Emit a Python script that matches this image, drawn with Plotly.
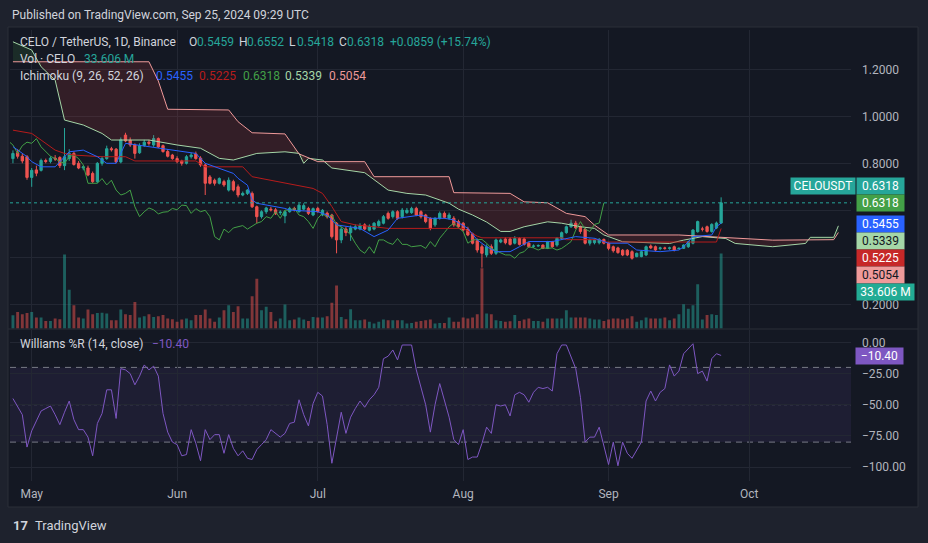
import numpy as np
import pandas as pd
import plotly.graph_objects as go

# ---------------- data ----------------
dates = pd.date_range("2024-04-27", "2024-09-25", freq="D")

opens = [.820,.845,.830,.828,.740,.772,.770,.812,.808,.822,
         .825,.790,.820,.842,.800,.780,.780,.757,.722,.800,
         .820,.862,.860,.806,.920,.898,.878,.845,.876,.890,
         .878,.905,.875,.850,.835,.820,.810,.800,.828,.840,
         .822,.793,.742,.728,.715,.722,.686,.722,.700,.665,
         .672,.672,.615,.573,.594,.605,.602,.590,.576,.594,
         .608,.594,.605,.608,.580,.608,.580,.588,.580,.545,
         .474,.520,.505,.520,.520,.538,.515,.520,.535,.545,
         .587,.573,.594,.573,.590,.590,.608,.594,.580,.566,
         .538,.566,.587,.566,.566,.552,.545,.520,.500,.470,
         .445,.410,.445,.417,.465,.478,.478,.460,.480,.478,
         .460,.447,.448,.452,.438,.467,.452,.480,.505,.530,
         .545,.530,.520,.460,.462,.462,.476,.460,.445,.440,
         .430,.430,.424,.403,.403,.410,.448,.445,.437,.440,
         .438,.445,.436,.438,.445,.460,.509,.520,.530,.510,
         .525,.5459]
highs = [.855,.860,.840,.835,.780,.790,.820,.820,.830,.835,
         .830,.950,.860,.850,.810,.790,.790,.765,.805,.830,
         .875,.870,.865,.910,.930,.910,.885,.885,.900,.900,
         .920,.910,.880,.860,.840,.830,.815,.835,.845,.850,
         .830,.800,.750,.735,.740,.730,.740,.730,.710,.680,
         .690,.680,.620,.600,.615,.615,.610,.600,.600,.615,
         .615,.630,.630,.615,.612,.615,.605,.595,.585,.550,
         .530,.530,.535,.540,.545,.545,.540,.550,.560,.580,
         .595,.600,.600,.610,.610,.615,.615,.600,.585,.570,
         .570,.595,.595,.590,.575,.560,.550,.530,.505,.480,
         .455,.455,.455,.480,.480,.485,.485,.490,.485,.485,
         .465,.455,.455,.455,.470,.470,.485,.510,.535,.560,
         .555,.535,.525,.480,.480,.482,.480,.465,.450,.445,
         .435,.435,.430,.420,.430,.450,.455,.450,.445,.445,
         .445,.450,.442,.455,.470,.520,.556,.530,.535,.545,
         .552,.6552]
lows = [.800,.820,.800,.730,.700,.745,.765,.800,.800,.810,
        .780,.771,.810,.790,.775,.770,.745,.715,.715,.790,
        .815,.850,.800,.800,.890,.870,.820,.840,.870,.875,
        .870,.865,.845,.825,.815,.800,.790,.795,.820,.815,
        .785,.665,.710,.705,.710,.700,.680,.680,.655,.660,
        .665,.610,.545,.565,.585,.595,.580,.580,.545,.590,
        .595,.590,.600,.580,.575,.590,.575,.565,.480,.417,
        .460,.490,.470,.515,.515,.515,.510,.515,.530,.540,
        .560,.565,.560,.565,.585,.585,.575,.565,.545,.515,
        .530,.560,.565,.560,.530,.525,.510,.490,.455,.420,
        .356,.400,.410,.410,.460,.455,.450,.455,.450,.450,
        .440,.440,.445,.435,.435,.440,.445,.475,.500,.525,
        .520,.500,.455,.450,.455,.455,.455,.430,.420,.415,
        .405,.405,.390,.400,.400,.405,.435,.425,.430,.432,
        .432,.425,.436,.436,.440,.455,.505,.510,.505,.505,
        .520,.5418]
closes = [.842,.830,.810,.740,.770,.758,.812,.808,.822,.818,
          .790,.828,.842,.795,.780,.785,.750,.722,.800,.820,
          .862,.858,.806,.900,.895,.878,.842,.875,.890,.885,
          .905,.870,.850,.830,.820,.807,.800,.828,.835,.820,
          .793,.715,.715,.715,.735,.708,.728,.686,.665,.672,
          .686,.615,.573,.594,.610,.602,.585,.592,.594,.608,
          .602,.622,.620,.587,.607,.594,.600,.573,.488,.474,
          .520,.505,.525,.530,.535,.520,.532,.545,.552,.573,
          .566,.594,.566,.601,.600,.608,.580,.573,.552,.523,
          .566,.587,.570,.580,.538,.530,.516,.495,.460,.431,
          .417,.445,.417,.474,.474,.462,.455,.480,.455,.455,
          .445,.448,.450,.438,.467,.445,.481,.505,.530,.545,
          .525,.510,.460,.474,.474,.476,.460,.438,.428,.420,
          .410,.410,.396,.417,.424,.445,.440,.431,.440,.438,
          .440,.431,.438,.452,.467,.516,.552,.520,.510,.540,
          .546,.6318]
volume_m = [5.95,7.4,6.4,7.0,7.4,4.9,4.9,3.4,3.4,4.5,
            4.2,33.2,17.4,10.4,4.9,4.5,8.5,6.4,7.0,7.1,
            6.7,3.7,3.7,8.5,6.4,6.0,11.9,4.9,5.5,6.4,
            5.2,5.5,6.0,4.5,4.2,3.0,4.0,4.5,3.7,6.0,
            6.0,8.5,4.5,3.0,4.9,8.2,10.4,7.4,10.0,4.5,
            4.5,14.4,22.3,8.2,9.7,7.4,3.3,4.5,10.7,3.7,
            4.0,4.9,4.0,3.4,5.2,4.9,4.9,5.5,11.5,19.3,
            5.2,4.2,8.6,3.7,3.7,4.0,3.0,2.2,3.0,4.0,
            3.7,3.7,3.7,3.7,2.2,2.5,3.0,3.4,3.7,4.0,
            2.2,2.5,2.5,4.9,3.0,3.0,4.9,4.5,4.9,6.4,
            27.0,6.7,6.4,3.7,3.4,3.0,3.3,6.0,3.4,4.0,
            4.5,3.4,3.4,3.0,4.5,4.5,4.5,4.5,8.2,4.9,
            4.9,4.9,4.9,4.5,4.0,4.0,3.4,4.0,4.5,4.5,
            4.0,4.5,5.5,3.0,3.7,4.9,4.5,4.5,4.5,4.9,
            3.7,4.5,6.4,10.9,8.9,10.4,19.8,4.0,6.0,6.4,
            6.0,33.606]
williams_r = [-45,-52,-58,-84,-71,-63,-55,-53,-51,-58,
              -66,-56,-47,-62,-70,-70,-76,-91,-65,-57,
              -38,-38,-61,-21,-22,-25,-34,-27,-18,-22,
              -19,-27,-57,-72,-80,-82,-91,-90,-70,-81,
              -95,-70,-78,-74,-74,-89,-74,-85,-91,-87,
              -93,-94,-86,-82,-78,-70,-73,-76,-73,-65,
              -64,-46,-58,-67,-49,-40,-43,-66,-97,-76,
              -56,-73,-60,-53,-47,-52,-46,-42,-36,-13,
              -11,-6,-14,-2,-2,-2,-22,-37,-50,-72,
              -50,-33,-46,-60,-78,-82,-70,-94,-92,-92,
              -81,-68,-73,-50,-51,-50,-59,-42,-40,-42,
              -48,-40,-36,-37,-36,-39,-9,-2,-2,-11,
              -21,-44,-80,-76,-76,-68,-83,-98,-80,-99,
              -80,-89,-93,-86,-80,-47,-39,-47,-40,-37,
              -18,-27,-23,-9,-5,-1,-25,-23,-31,-13,
              -9,-10.4]

# Ichimoku lines (vertices)
tenkan_dates = ["2024-04-27","2024-04-28","2024-04-30","2024-05-01","2024-05-03","2024-05-06",
                "2024-05-09","2024-05-12","2024-05-15","2024-05-17","2024-05-19","2024-05-21",
                "2024-05-26","2024-06-03","2024-06-05","2024-06-07","2024-06-13","2024-06-14",
                "2024-06-16","2024-06-17","2024-06-18","2024-06-24","2024-06-25","2024-07-01",
                "2024-07-03","2024-07-05","2024-07-10","2024-07-13","2024-07-16","2024-07-18",
                "2024-07-21","2024-07-23","2024-07-25","2024-07-28","2024-07-30","2024-08-02",
                "2024-08-04","2024-08-06","2024-08-08","2024-08-11","2024-08-13","2024-08-15",
                "2024-08-20","2024-08-23","2024-08-25","2024-08-29","2024-09-01","2024-09-05",
                "2024-09-07","2024-09-12","2024-09-16","2024-09-17","2024-09-19","2024-09-23",
                "2024-09-24","2024-09-25"]
tenkan_vals = [0.871,0.856,0.828,0.807,0.785,0.785,0.849,0.856,0.828,0.800,0.800,0.885,
               0.870,0.849,0.842,0.800,0.757,0.736,0.707,0.644,0.630,0.608,0.601,0.594,
               0.580,0.538,0.523,0.488,0.516,0.566,0.573,0.580,0.566,0.566,0.559,0.523,
               0.474,0.445,0.424,0.424,0.445,0.467,0.467,0.481,0.488,0.481,0.460,0.460,
               0.431,0.424,0.431,0.445,0.488,0.495,0.530,0.5455]

kijun_dates = ["2024-04-27","2024-05-01","2024-05-03","2024-05-06","2024-05-08","2024-05-10",
               "2024-05-16","2024-05-21","2024-05-23","2024-06-05","2024-06-07","2024-06-15",
               "2024-06-17","2024-06-24","2024-06-30","2024-07-02","2024-07-04","2024-07-06",
               "2024-07-09","2024-07-13","2024-07-16","2024-08-01","2024-08-04","2024-08-05",
               "2024-08-22","2024-08-23","2024-08-30","2024-08-31","2024-09-24","2024-09-25"]
kijun_vals = [0.941,0.927,0.899,0.856,0.842,0.835,0.828,0.828,0.810,0.810,0.785,0.785,
              0.743,0.715,0.693,0.672,0.616,0.552,0.538,0.530,0.523,0.523,0.490,0.483,
              0.483,0.475,0.475,0.465,0.465,0.5225]

span_a_dates = ["2024-04-27","2024-05-01","2024-05-03","2024-05-06","2024-05-08","2024-05-12",
                "2024-05-16","2024-05-18","2024-05-26","2024-06-01","2024-06-06","2024-06-10",
                "2024-06-13","2024-06-18","2024-06-24","2024-06-27","2024-06-28","2024-06-29",
                "2024-07-02","2024-07-04","2024-07-11","2024-07-13","2024-07-16","2024-07-20",
                "2024-07-24","2024-07-29","2024-07-31","2024-08-03","2024-08-06","2024-08-09",
                "2024-08-11","2024-08-14","2024-08-19","2024-08-22","2024-08-26","2024-08-29",
                "2024-08-31","2024-09-01","2024-09-04","2024-09-14","2024-09-17","2024-09-21",
                "2024-09-26","2024-09-28","2024-10-06","2024-10-13","2024-10-14","2024-10-19",
                "2024-10-20"]
span_a_vals = [1.317,1.282,1.211,1.154,0.984,0.963,0.927,0.899,0.899,0.878,0.864,0.821,
               0.814,0.842,0.849,0.842,0.800,0.821,0.814,0.780,0.760,0.729,0.686,0.672,
               0.665,0.630,0.605,0.580,0.550,0.510,0.510,0.530,0.551,0.545,0.530,0.523,
               0.495,0.488,0.466,0.459,0.473,0.488,0.480,0.459,0.445,0.459,0.485,0.485,
               0.5339]

span_b_dates = ["2024-04-27","2024-05-26","2024-05-28","2024-05-30","2024-06-12","2024-06-14",
                "2024-06-17","2024-06-24","2024-06-27","2024-07-01","2024-07-11","2024-07-13",
                "2024-07-29","2024-07-30","2024-08-11","2024-08-14","2024-08-19","2024-08-23",
                "2024-08-27","2024-08-29","2024-09-01","2024-09-16","2024-10-06","2024-10-19",
                "2024-10-20"]
span_b_vals = [1.232,1.232,1.150,1.030,1.027,0.977,0.930,0.925,0.840,0.807,0.807,0.743,
               0.743,0.675,0.672,0.636,0.632,0.587,0.573,0.537,0.495,0.495,0.473,0.475,
               0.5054]

lag_shift_days = 25
month_ticks = ["2024-05-01","2024-06-01","2024-07-01","2024-08-01","2024-09-01","2024-10-01"]
month_labels = ["May","Jun","Jul","Aug","Sep","Oct"]
price_ticks = [0.2, 0.4, 0.6, 0.8, 1.0, 1.2]
price_tick_text = ["0.2000", "", "", "0.8000", "1.0000", "1.2000"]
wr_ticks = [0, -25, -50, -75, -100]
wr_tick_text = ["0.00", "\u221225.00", "\u221250.00", "\u221275.00", "\u2212100.00"]

# ---------------- styling ----------------
UP, DOWN = "#26a69a", "#ef5350"
UP_V, DOWN_V = "rgba(38,166,154,0.5)", "rgba(239,83,80,0.5)"
C_TENKAN, C_KIJUN, C_LAG = "#2962ff", "#b71c1c", "#43a047"
C_A, C_B = "#a5d6a7", "#ef9a9a"
C_WR = "#7e57c2"
BG_OUT, BG_CHART = "#1e222d", "#141823"
GRID = "#232733"
TXT = "#d1d4dc"
AX = "#b2b5be"
FONT = "Roboto"

W, H = 928, 543
L, R, T, B = 10, 77, 30, 62
PW, PH = W - L - R, H - T - B
def px(x): return (x - L) / PW
def py(y): return (H - B - y) / PH

price_top_y, price_bot_y = 30, 328.5
wr_top_y = 329.5

fig = go.Figure()

# volume (bottom layer, axis y)
vcol = [UP_V if c >= o else DOWN_V for o, c in zip(opens, closes)]
fig.add_trace(go.Bar(x=dates, y=volume_m, marker=dict(color=vcol, line=dict(width=0)),
                     width=0.62 * 86400000, xaxis="x", yaxis="y", hoverinfo="skip"))

# cloud fill
grid = pd.date_range("2024-04-27", "2024-10-20", freq="D")
gnum = grid.asi8 / 1e9
a_g = np.interp(gnum, pd.to_datetime(span_a_dates).asi8 / 1e9, span_a_vals)
b_g = np.interp(gnum, pd.to_datetime(span_b_dates).asi8 / 1e9, span_b_vals)
sign = a_g >= b_g
i = 0
while i < len(grid):
    j = i
    while j + 1 < len(grid) and sign[j + 1] == sign[i]:
        j += 1
    lo, hi = max(i - 1, 0), min(j + 1, len(grid) - 1)
    xs = list(grid[lo:hi + 1]) + list(grid[lo:hi + 1][::-1])
    ys = list(a_g[lo:hi + 1]) + list(b_g[lo:hi + 1][::-1])
    col = "rgba(67,160,71,0.15)" if sign[i] else "rgba(230,70,70,0.15)"
    fig.add_trace(go.Scatter(x=xs, y=ys, fill="toself", fillcolor=col, mode="none",
                             xaxis="x", yaxis="y2", hoverinfo="skip"))
    i = j + 1

def line(xv, yv, color, width=1):
    fig.add_trace(go.Scatter(x=xv, y=yv, mode="lines", line=dict(color=color, width=width),
                             xaxis="x", yaxis="y2", hoverinfo="skip"))

line(pd.to_datetime(span_a_dates), span_a_vals, C_A)
line(pd.to_datetime(span_b_dates), span_b_vals, C_B)
line(dates - pd.Timedelta(days=lag_shift_days), closes, C_LAG)
line(pd.to_datetime(kijun_dates), kijun_vals, C_KIJUN)
line(pd.to_datetime(tenkan_dates), tenkan_vals, C_TENKAN)

fig.add_trace(go.Candlestick(x=dates, open=opens, high=highs, low=lows, close=closes,
                             increasing=dict(line=dict(color=UP, width=1), fillcolor=UP),
                             decreasing=dict(line=dict(color=DOWN, width=1), fillcolor=DOWN),
                             xaxis="x", yaxis="y2", hoverinfo="skip"))

# Williams %R
fig.add_trace(go.Scatter(x=dates, y=williams_r, mode="lines", line=dict(color=C_WR, width=1),
                         xaxis="x2", yaxis="y3", hoverinfo="skip"))

x0 = pd.Timestamp("2024-05-01") - pd.Timedelta(days=(31.7 - L) / 4.69)
x1 = pd.Timestamp("2024-05-01") + pd.Timedelta(days=(L + PW - 31.7) / 4.69)

def p_at(y): return 0.8 - (y - 163.3) / 235.0
def wr_at(y): return -(y - 342.5) / 1.245

axfont = dict(family=FONT, size=12, color=AX)
common_x = dict(type="date", range=[x0, x1], tickvals=month_ticks, ticktext=month_labels,
                showgrid=True, gridcolor=GRID, gridwidth=1, zeroline=False, showline=False,
                ticks="", tickfont=axfont, fixedrange=True)
fig.update_layout(
    width=W, height=H, margin=dict(l=L, r=R, t=T, b=B),
    paper_bgcolor=BG_OUT, plot_bgcolor="rgba(0,0,0,0)", showlegend=False,
    xaxis=dict(**common_x, domain=[0, 1], anchor="y", showticklabels=False,
               rangeslider=dict(visible=False)),
    xaxis2=dict(**common_x, domain=[0, 1], anchor="y3", showticklabels=True, ticklabelstandoff=4),
    yaxis=dict(domain=[py(price_bot_y), 1], range=[0, (price_bot_y - price_top_y) * 33.606 / 75.0],
               visible=False, fixedrange=True),
    yaxis2=dict(overlaying="y", anchor="x", side="right",
                range=[p_at(price_bot_y), p_at(price_top_y)], tickvals=price_ticks,
                ticktext=price_tick_text, showgrid=True, gridcolor=GRID,
                zeroline=False, ticks="", tickfont=axfont, ticklabelstandoff=10, fixedrange=True),
    yaxis3=dict(domain=[0, py(wr_top_y)], anchor="x2", side="right",
                range=[wr_at(H - B), wr_at(wr_top_y)], tickvals=wr_ticks,
                ticktext=wr_tick_text,
                showgrid=True, gridcolor=GRID, zeroline=False, ticks="", tickfont=axfont,
                ticklabelstandoff=10, fixedrange=True),
    font=dict(family=FONT, color=TXT),
)

shapes = []
shapes.append(dict(type="rect", xref="paper", yref="paper", x0=px(8), x1=px(918), y0=py(507), y1=py(27),
                   fillcolor=BG_CHART, line=dict(color="#2a2e39", width=1), layer="below"))
shapes.append(dict(type="line", xref="paper", yref="paper", x0=px(8), x1=px(918), y0=py(329), y1=py(329),
                   line=dict(color="#2a2e39", width=1), layer="below"))
shapes.append(dict(type="rect", xref="paper", yref="y3", x0=0, x1=1, y0=-80, y1=-20,
                   fillcolor="rgba(126,87,194,0.10)", line=dict(width=0), layer="below"))
for lvl in (-20, -80):
    shapes.append(dict(type="line", xref="paper", yref="y3", x0=0, x1=1, y0=lvl, y1=lvl,
                       line=dict(color="#787b86", width=1, dash="6px,5px"), layer="below"))
shapes.append(dict(type="line", xref="paper", yref="y3", x0=0, x1=1, y0=-50, y1=-50,
                   line=dict(color="rgba(120,123,134,0.6)", width=1, dash="dot"), layer="below"))
shapes.append(dict(type="line", xref="paper", yref="y2", x0=0, x1=1, y0=closes[-1], y1=closes[-1],
                   line=dict(color=UP, width=1, dash="dot")))
fig.update_layout(shapes=shapes)

ann = []
def txt(x, y, s, color=TXT, size=12):
    ann.append(dict(xref="paper", yref="paper", x=px(x), y=py(y), text=s, showarrow=False,
                    xanchor="left", yanchor="middle", font=dict(family=FONT, size=size, color=color)))

def box(x, y, s, bg, fg="#ffffff", w=45):
    ann.append(dict(xref="paper", yref="paper", x=px(x), y=py(y), text=s, showarrow=False,
                    xanchor="left", yanchor="middle", bgcolor=bg, borderpad=1, width=w, height=14,
                    align="center", font=dict(family=FONT, size=12, color=fg)))

txt(10, 15, "Published on TradingView.com, Sep 25, 2024 09:29 UTC", TXT, 12)
txt(18, 42, "CELO / TetherUS, 1D, Binance")
txt(187, 42, "O"); txt(195, 42, "0.5459", UP)
txt(237, 42, "H"); txt(245, 42, "0.6552", UP)
txt(287, 42, "L"); txt(295, 42, "0.5418", UP)
txt(337, 42, "C"); txt(345, 42, "0.6318", UP)
txt(388, 42, "+0.0859 (+15.74%)", UP)
txt(18, 59, "Vol \u00b7 CELO")
txt(82, 59, "33.606 M", UP)
txt(18, 76, "Ichimoku (9, 26, 52, 26)")
txt(154, 76, "0.5455", C_TENKAN)
txt(197, 76, "0.5225", C_KIJUN)
txt(241, 76, "0.6318", C_LAG)
txt(283, 76, "0.5339", C_A)
txt(327, 76, "0.5054", C_B)
txt(18, 344, "Williams %R (14, close)")
txt(150, 344, "\u221210.40", C_WR)

box(790, 186, "CELOUSDT", UP, w=62)
box(856, 186, "0.6318", UP)
box(856, 203.5, "0.6318", C_LAG)
box(856, 224, "0.5455", C_TENKAN)
box(856, 241, "0.5339", C_A, "#131722")
box(856, 258, "0.5225", "#c62828")
box(856, 274.5, "0.5054", C_B, "#131722")
box(856, 291.5, "33.606 M", "#22ab94", w=55)
box(855, 356.5, "\u221210.40", C_WR)

txt(11, 525, "<b>17</b>", TXT, 13)
txt(33, 525, "TradingView", TXT, 13)
fig.update_layout(annotations=ann)

fig.write_html("out.html", config={"displayModeBar": False},
               post_script="document.body.style.margin='0';document.body.style.background='%s';" % BG_OUT)
